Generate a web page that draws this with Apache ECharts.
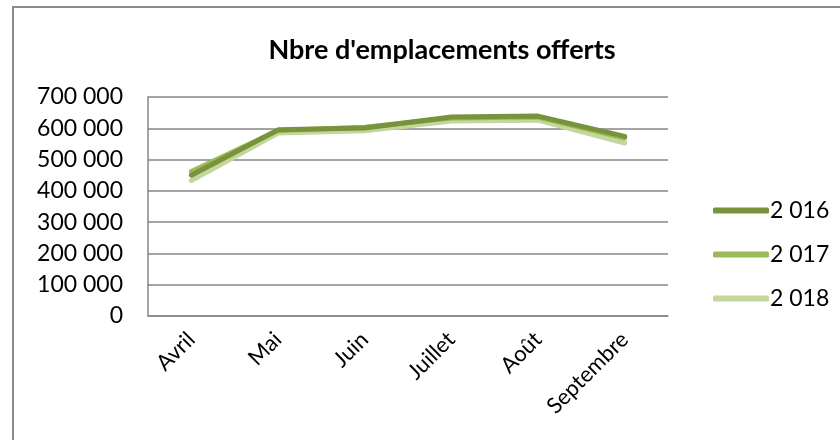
<!DOCTYPE html>
<html><head><meta charset="utf-8">
<script src="https://cdn.jsdelivr.net/npm/echarts@6/dist/echarts.min.js"></script>
<style>html,body{margin:0;padding:0;background:#fff}#c{width:840px;height:440px}</style>
</head><body><div id="c"></div>
<script>
const categories = ['Avril','Mai','Juin','Juillet','Août','Septembre'];
const s2016 = [450000, 595000, 601000, 636000, 639000, 574000];
const s2017 = [462000, 593000, 603000, 633000, 636000, 569000];
const s2018 = [433000, 585000, 592000, 623000, 626000, 553000];
const seriesNames = ['2 016','2 017','2 018'];
const colors = ['#77933C','#9BBB59','#C3D69B'];
const FONT = 'Lato';
const chart = echarts.init(document.getElementById('c'));
function fmt(v){ if(v===0) return '0'; const s=String(v); return s.replace(/\B(?=(\d{3})+(?!\d))/g,' '); }
const data = [s2016, s2017, s2018];
chart.setOption({
  animation:false,
  textStyle:{fontFamily:FONT},
  graphic:[{type:'rect',shape:{x:13,y:7,width:840,height:460},style:{fill:'none',stroke:'#8c8c8c',lineWidth:2}}],
  title:{text:"Nbre d'emplacements offerts",left:437,top:32,textAlign:'center',textStyle:{fontFamily:FONT,fontSize:27,fontWeight:'bold',color:'#000'}},
  legend:{orient:'vertical',left:708,top:194,itemWidth:56,itemHeight:6,itemGap:21,icon:'roundRect',
    textStyle:{fontFamily:FONT,fontSize:23,color:'#000',padding:[0,0,0,-4]},
    data:seriesNames.map((n,i)=>({name:n,itemStyle:{color:colors[i]}}))},
  grid:{left:148,top:97,width:520,height:219},
  xAxis:{type:'category',data:categories,boundaryGap:true,
    axisLine:{lineStyle:{color:'#868686',width:1.5}},axisTick:{show:false},
    axisLabel:{rotate:45,fontFamily:FONT,fontSize:22,color:'#000',margin:20}},
  yAxis:{type:'value',min:0,max:700000,interval:100000,
    axisLine:{show:true,lineStyle:{color:'#868686',width:1.5}},axisTick:{show:false},
    splitLine:{lineStyle:{color:'#868686',width:1.5}},
    axisLabel:{formatter:fmt,fontFamily:FONT,fontSize:23,color:'#000',margin:25}},
  series:data.map((d,i)=>({name:seriesNames[i],type:'line',data:d,symbol:'none',z:10-i,
    lineStyle:{color:colors[i],width:5,cap:'round',join:'round'},itemStyle:{color:colors[i]}}))
});
</script></body></html>
